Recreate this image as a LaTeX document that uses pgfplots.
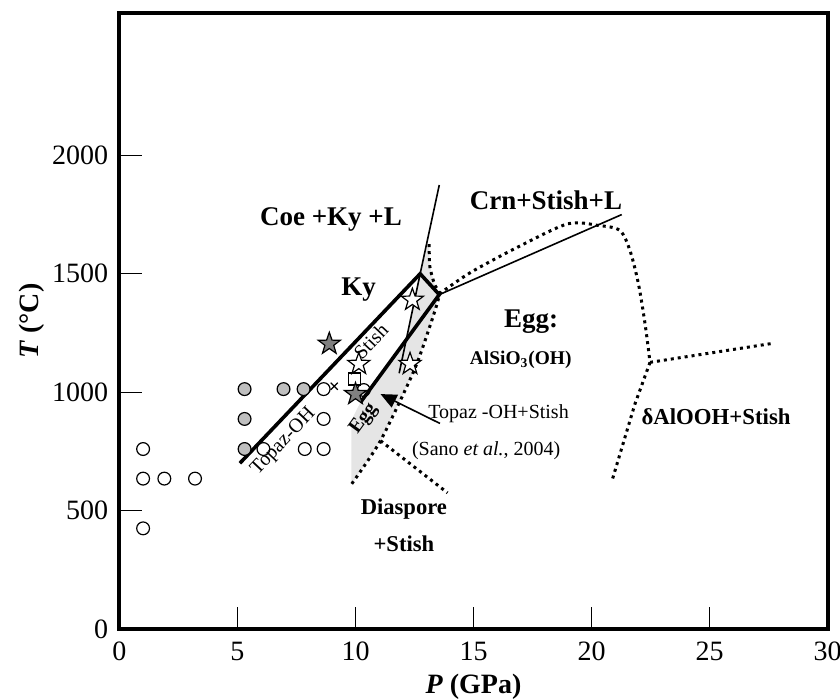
\documentclass[border=0pt]{standalone}
\usepackage{fontspec}
\setmainfont{Liberation Serif}
\usepackage{pgfplots}
\pgfplotsset{compat=1.18}
\usetikzlibrary{arrows.meta}
\pgfdeclareplotmark{fstar}{%
  \pgfpathmoveto{\pgfpointpolar{90}{\pgfplotmarksize}}%
  \pgfpathlineto{\pgfpointpolar{126}{0.40\pgfplotmarksize}}%
  \pgfpathlineto{\pgfpointpolar{162}{\pgfplotmarksize}}%
  \pgfpathlineto{\pgfpointpolar{198}{0.40\pgfplotmarksize}}%
  \pgfpathlineto{\pgfpointpolar{234}{\pgfplotmarksize}}%
  \pgfpathlineto{\pgfpointpolar{270}{0.40\pgfplotmarksize}}%
  \pgfpathlineto{\pgfpointpolar{306}{\pgfplotmarksize}}%
  \pgfpathlineto{\pgfpointpolar{342}{0.40\pgfplotmarksize}}%
  \pgfpathlineto{\pgfpointpolar{18}{\pgfplotmarksize}}%
  \pgfpathlineto{\pgfpointpolar{54}{0.40\pgfplotmarksize}}%
  \pgfpathclose
  \pgfusepathqfillstroke}
\definecolor{shade}{gray}{0.90}
\definecolor{gcirc}{gray}{0.75}
\definecolor{gstar}{gray}{0.50}
\tikzset{dotl/.style={line width=1.5pt, dash pattern=on 1.5pt off 2pt, black},
  thickl/.style={line width=1.8pt, black},
  thinl/.style={line width=0.8pt, black}}
\begin{document}
\begin{tikzpicture}
\begin{axis}[
  scale only axis, width=354pt, height=307.85pt,
  xmin=0, xmax=30, ymin=0, ymax=2600,
  xtick={0,5,...,30}, ytick={0,500,1000,1500,2000},
  tick pos=left, tick align=inside,
  major tick length=11pt,
  tick style={line width=0.5pt, black},
  axis line style={line width=2pt},
  ticklabel style={font=\fontsize{14}{14}\selectfont},
  xticklabel style={anchor=center, yshift=-11pt, inner sep=0pt},
  yticklabel style={anchor=east, inner sep=0pt, xshift=-5.5pt},
  /pgf/number format/assume math mode=true,
  /pgf/number format/set thousands separator={},
  scaled ticks=false,
  xlabel={\fontsize{14}{14}\selectfont\textbf{\textit{P} (GPa)}},
  ylabel={\fontsize{14}{14}\selectfont\textbf{\textit{T} (°C)}},
  xlabel style={at={(axis description cs:0.5,0)}, anchor=center, yshift=-29pt, inner sep=0pt},
  ylabel style={at={([xshift=-44pt]axis description cs:0,0.5)}, anchor=center, inner sep=0pt, rotate=0},
  clip=false,
]
% shaded Egg field
\addplot[fill=shade, draw=none] coordinates {
 (13.05,1625) (12.74,1500) (12.19,1225) (10.21,957) (9.82,880) (9.82,610)
 (11.06,795) (12.48,1091) (13.19,1290) (13.55,1412) (13.35,1455) (13.15,1530) (13.12,1625)} -- cycle;
% dotted boundaries
\addplot[dotl, smooth, tension=0.4] coordinates {
 (13.12,1625) (13.15,1530) (13.35,1455) (13.55,1412) (13.19,1290) (12.48,1091) (11.06,795) (9.82,610)};
\addplot[dotl] coordinates {(11.06,795) (13.9,575)};
\addplot[dotl, smooth, tension=0.5] coordinates {
 (13.55,1415) (14.9,1507) (17.0,1619) (19.0,1711) (20.3,1704) (21.2,1683) (21.63,1598) (21.99,1457) (22.27,1288) (22.48,1126)};
\addplot[dotl] coordinates {(22.48,1126) (21.84,950) (20.85,620)};
\addplot[dotl] coordinates {(22.48,1126) (27.6,1205)};
% solid boundaries
\addplot[thickl] coordinates {(5.1,700) (12.74,1500) (13.55,1412) (10.21,957)};
\addplot[thinl] coordinates {(13.55,1875) (12.74,1500) (11.85,1080)};
\addplot[thinl] coordinates {(13.55,1412) (21.28,1750)};
% open circles
\addplot[only marks, mark=o, mark size=3.2pt, mark options={line width=0.6pt, black}] coordinates {
 (1.0,760) (1.0,635) (1.9,635) (3.2,635) (1.0,425)
 (6.1,760) (7.85,760) (8.65,760) (8.65,887) (8.65,1013) (10.35,1009)};
% grey circles
\addplot[only marks, mark=*, mark size=3.2pt, mark options={line width=0.6pt, draw=black, fill=gcirc}] coordinates {
 (5.3,1013) (5.3,887) (5.3,760) (6.95,1013) (7.8,1013)};
% cross
\addplot[only marks, mark=x, mark size=2.5pt, mark options={line width=0.6pt, black}] coordinates {(9.1,1025)};
% square
\addplot[only marks, mark=square*, mark size=3pt, mark options={line width=0.6pt, draw=black, fill=white}] coordinates {(9.96,1056)};
% white stars
\addplot[only marks, mark=fstar, mark size=5.8pt, mark options={line width=0.6pt, draw=black, fill=white}] coordinates {
 (12.41,1390) (10.14,1119) (12.31,1119)};
% grey stars
\addplot[only marks, mark=fstar, mark size=5.8pt, mark options={line width=0.6pt, draw=black, fill=gstar}] coordinates {
 (8.89,1204) (10.0,992)};
% arrow
\draw[-{Triangle[length=8pt,width=7pt]}, line width=0.8pt] (axis cs:13.58,868) -- (axis cs:11.06,992);
% labels
\node[font=\fontsize{13.5}{13.5}\selectfont\bfseries] at (axis cs:8.96,1729) {Coe +Ky +L};
\node[font=\fontsize{13.5}{13.5}\selectfont\bfseries] at (axis cs:10.13,1434) {Ky};
\node[font=\fontsize{13.5}{13.5}\selectfont\bfseries] at (axis cs:18.07,1810) {Crn+Stish+L};
\node[font=\fontsize{13.5}{13.5}\selectfont\bfseries] at (axis cs:17.44,1300) {Egg:};
\node[font=\fontsize{9.7}{9.7}\selectfont\bfseries] at (axis cs:17.0,1138) {AlSiO\textsubscript{3}(OH)};
\node[font=\fontsize{10}{10}\selectfont, anchor=west, inner sep=0pt] at (axis cs:13.07,911) {Topaz -OH+Stish};
\node[font=\fontsize{10}{10}\selectfont, anchor=west, inner sep=0pt] at (axis cs:12.38,753) {(Sano \textit{et al.}, 2004)};
\node[font=\fontsize{11.3}{18.5}\selectfont\bfseries, align=center] at (axis cs:12.05,440) {Diaspore\\+Stish};
\node[font=\fontsize{11.4}{11.4}\selectfont\bfseries] at (axis cs:25.28,898) {δAlOOH+Stish};
\node[font=\fontsize{10}{10}\selectfont, rotate=46.6] at (axis cs:6.95,790) {Topaz-OH};
\node[font=\fontsize{10}{10}\selectfont, rotate=46.6] at (axis cs:10.65,1215) {Stish};
\node[font=\fontsize{10}{10}\selectfont\bfseries, rotate=54] at (axis cs:10.36,887) {Egg};
\end{axis}
\pgfresetboundingbox
\path[use as bounding box] ([shift={(-59.75pt,-35.5pt)}]current axis.south west) rectangle ([shift={(6.25pt,6.65pt)}]current axis.north east);
\end{tikzpicture}
\end{document}
